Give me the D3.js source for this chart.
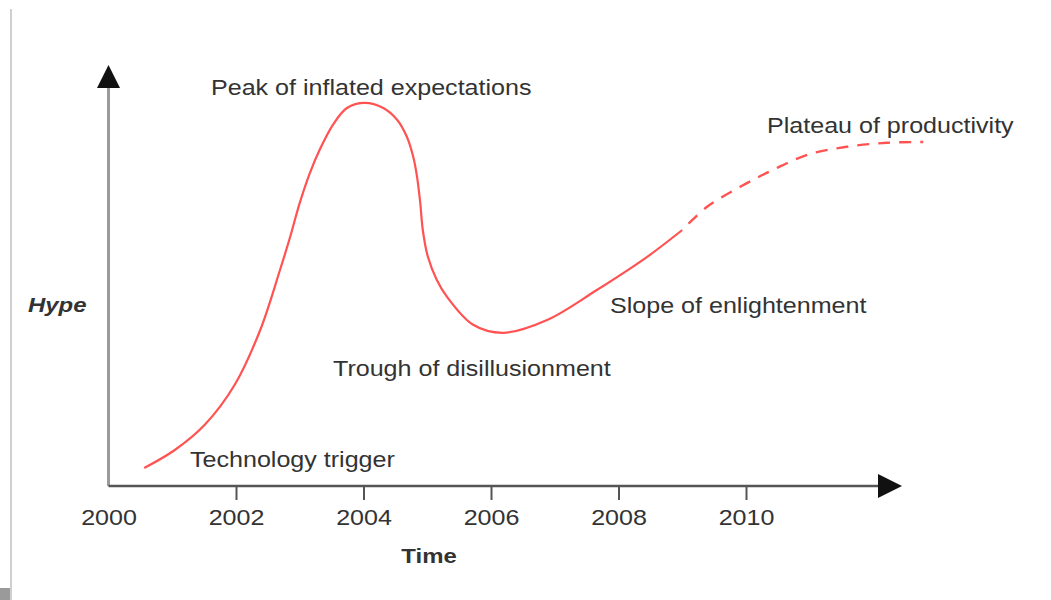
<!DOCTYPE html>
<html>
<head>
<meta charset="utf-8">
<script src="https://cdn.jsdelivr.net/npm/d3@7"></script>
<style>
  body { margin: 0; background: #fff; }
  text { font-family: "Liberation Sans", Arial, sans-serif; fill: #333; }
</style>
</head>
<body>
<div id="graph_draw"></div>
<script>
// hype curve (year, hype 0-100)
var solidYears = [2000.56, 2001.04, 2001.51, 2001.98, 2002.38, 2002.69, 2002.85, 2003.00, 2003.16, 2003.32, 2003.52, 2003.74, 2004.02, 2004.31, 2004.53, 2004.68, 2004.78, 2004.84, 2004.89, 2004.93, 2005.01, 2005.15, 2005.31, 2005.72, 2006.19, 2006.88, 2007.66, 2008.45, 2009.00];
var solidHype  = [4.5, 9.0, 15.3, 25.3, 39.0, 54.0, 62.3, 70.8, 78.3, 84.3, 90.3, 94.5, 95.8, 94.5, 91.5, 87.3, 82.3, 77.3, 70.8, 64.0, 57.3, 51.5, 47.3, 40.3, 38.3, 41.5, 49.0, 57.3, 64.0];
// plateau part (dashed)
var dashYears = [2009.00, 2009.39, 2009.91, 2010.42, 2010.96, 2011.58, 2012.21, 2012.78];
var dashHype  = [64.0, 69.8, 74.8, 79.0, 82.8, 84.8, 85.8, 86.0];

var tickYears = [2000, 2002, 2004, 2006, 2008, 2010];
var phaseNames = ["Peak of inflated expectations", "Plateau of productivity", "Slope of enlightenment",
                  "Trough of disillusionment", "Technology trigger"];
var xTitle = "Time";
var yTitle = "Hype";

var W = 1051, H = 600;
var stretch = 1.14; // the text in the picture is a bit wide

var svg = d3.select("#graph_draw").append("svg")
    .attr("width", W)
    .attr("height", H);

// set the ranges
var x = d3.scaleLinear().domain([2000, 2010]).range([108.5, 746]);
var y = d3.scaleLinear().domain([0, 100]).range([486, 86]);

// thin grey border on the left + little block at bottom
svg.append("line").attr("x1", 11).attr("x2", 11).attr("y1", 9).attr("y2", H)
    .attr("stroke", "#cfcfcf").attr("stroke-width", 2);
svg.append("rect").attr("x", 0).attr("y", 588).attr("width", 10).attr("height", 12)
    .attr("fill", "#9a9a9a");

var x0 = x(2000), yBase = y(0);

// Y axis line + arrow
svg.append("line").attr("x1", x0).attr("x2", x0).attr("y1", yBase).attr("y2", 86)
    .attr("stroke", "#9b9b9b").attr("stroke-width", 3);
svg.append("path")
    .attr("d", "M" + x0 + ",65 L" + (x0 + 11.5) + ",88 L" + (x0 - 11.5) + ",88 Z")
    .attr("fill", "#111");

// X axis with ticks
var xAxis = svg.append("g")
    .attr("transform", "translate(0," + yBase + ")")
    .call(d3.axisBottom(x).tickValues(tickYears).tickSize(14).tickFormat(d3.format("d")));
xAxis.select(".domain").remove();
xAxis.selectAll(".tick line").attr("stroke", "#555").attr("stroke-width", 2)
    .filter(function(d) { return d === 2000; }).remove();
xAxis.selectAll(".tick text")
    .attr("y", 39).attr("dy", 0)
    .attr("transform", "scale(" + stretch + ",1)")
    .style("font-size", "22px")
    .style("font-family", "'Liberation Sans', Arial, sans-serif")
    .attr("fill", "#333");

svg.append("line").attr("x1", x0).attr("x2", 880).attr("y1", yBase).attr("y2", yBase)
    .attr("stroke", "#555").attr("stroke-width", 2.5);
svg.append("path")
    .attr("d", "M902," + yBase + " L878," + (yBase - 12) + " L878," + (yBase + 12) + " Z")
    .attr("fill", "#111");

// define the line
var valueline = d3.line()
    .x(function(d) { return x(d[0]); })
    .y(function(d) { return y(d[1]); })
    .curve(d3.curveCatmullRom.alpha(0.5));

svg.append("path")
    .datum(d3.zip(solidYears, solidHype))
    .attr("fill", "none")
    .attr("stroke", "#ff5252")
    .attr("stroke-width", 2.2)
    .attr("d", valueline);

svg.append("path")
    .datum(d3.zip(dashYears, dashHype))
    .attr("fill", "none")
    .attr("stroke", "#ff5252")
    .attr("stroke-width", 2.4)
    .attr("stroke-dasharray", "12,9")
    .attr("stroke-dashoffset", 12)
    .attr("d", valueline);

// phase labels (left x, baseline y)
var labelPos = [[211, 95], [767, 133], [610, 313], [333, 376], [190, 467]];
phaseNames.forEach(function(name, i) {
    svg.append("text")
        .attr("transform", "translate(" + labelPos[i][0] + "," + labelPos[i][1] + ") scale(" + stretch + ",1)")
        .style("font-size", "22px")
        .text(name);
});

// axis titles
svg.append("text")
    .attr("transform", "translate(429,563) scale(" + stretch + ",1)")
    .attr("text-anchor", "middle")
    .style("font-size", "21px").style("font-weight", "bold")
    .text(xTitle);

svg.append("text")
    .attr("transform", "translate(28,312) scale(" + stretch + ",1)")
    .style("font-size", "21px").style("font-weight", "bold").style("font-style", "italic")
    .text(yTitle);
</script>
</body>
</html>
